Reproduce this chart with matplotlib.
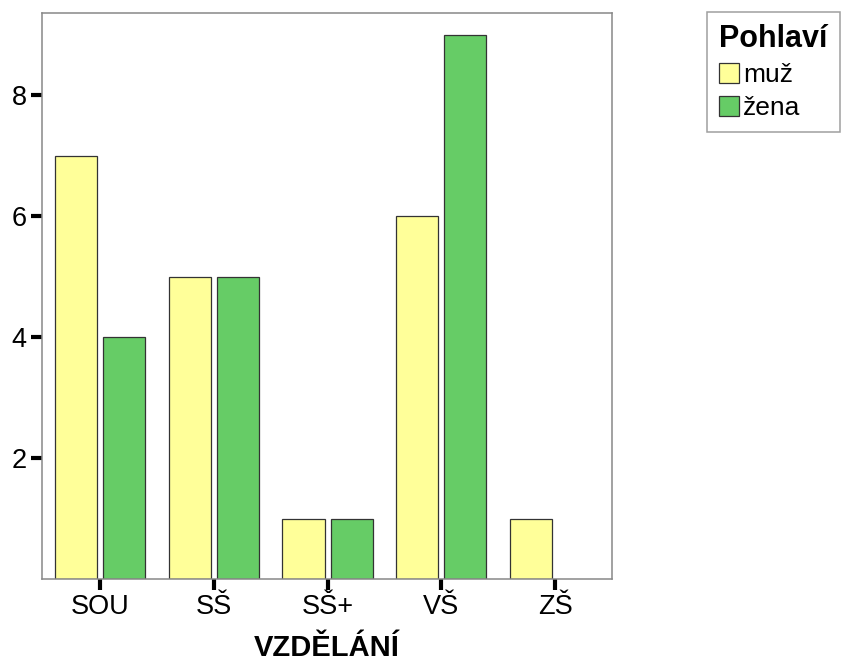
import numpy as np
import matplotlib.pyplot as plt
from matplotlib.patches import Patch

plt.rcParams['font.family'] = ['Liberation Sans', 'DejaVu Sans']

# data
kategorie = ["SOU", "SŠ", "SŠ+", "VŠ", "ZŠ"]
muz = [7, 5, 1, 6, 1]
zena = [4, 5, 1, 9, 0]
barvy = {"muž": "#ffff99", "žena": "#66cc66"}

x = np.arange(len(kategorie))
w = 0.37
d = 0.211

fig = plt.figure(figsize=(8.46, 6.64), dpi=100)
ax = fig.add_axes([0.0496, 0.128, 0.6738, 0.8524])

ax.bar(x - d, muz, width=w, color=barvy["muž"], edgecolor="#333333", linewidth=0.9)
# nulové hodnoty nekreslíme
zx = [xi + d for xi, v in zip(x, zena) if v > 0]
zv = [v for v in zena if v > 0]
ax.bar(zx, zv, width=w, color=barvy["žena"], edgecolor="#333333", linewidth=0.9)

ax.set_xlim(-0.51, 4.50)
ax.set_ylim(0, 9.36)
ax.set_xticks(x)
ax.set_xticklabels(kategorie)
ax.set_yticks([2, 4, 6, 8])
ax.tick_params(axis="both", direction="out", length=8, width=3, color="black",
               labelsize=19.5, pad=3)
for s in ax.spines.values():
    s.set_color("#888888")
    s.set_linewidth(1.1)

ax.set_xlabel("VZDĚLÁNÍ", fontsize=21, fontweight="bold", labelpad=10)

# legenda
handles = [Patch(facecolor=barvy["muž"], edgecolor="#333333", linewidth=0.9, label="muž"),
           Patch(facecolor=barvy["žena"], edgecolor="#333333", linewidth=0.9, label="žena")]
leg = fig.legend(handles=handles, title="Pohlaví", loc="upper left",
                 bbox_to_anchor=(0.836, 0.982), fontsize=19, frameon=True,
                 fancybox=False, handlelength=0.75, handleheight=0.75,
                 handletextpad=0.15, labelspacing=0.35, borderpad=0.45,
                 alignment="left", borderaxespad=0)
leg.get_title().set_fontsize(22)
leg.get_title().set_fontweight("bold")
leg.get_frame().set_edgecolor("#888888")
leg.get_frame().set_linewidth(1.1)

fig.savefig("out.png", dpi=100)
